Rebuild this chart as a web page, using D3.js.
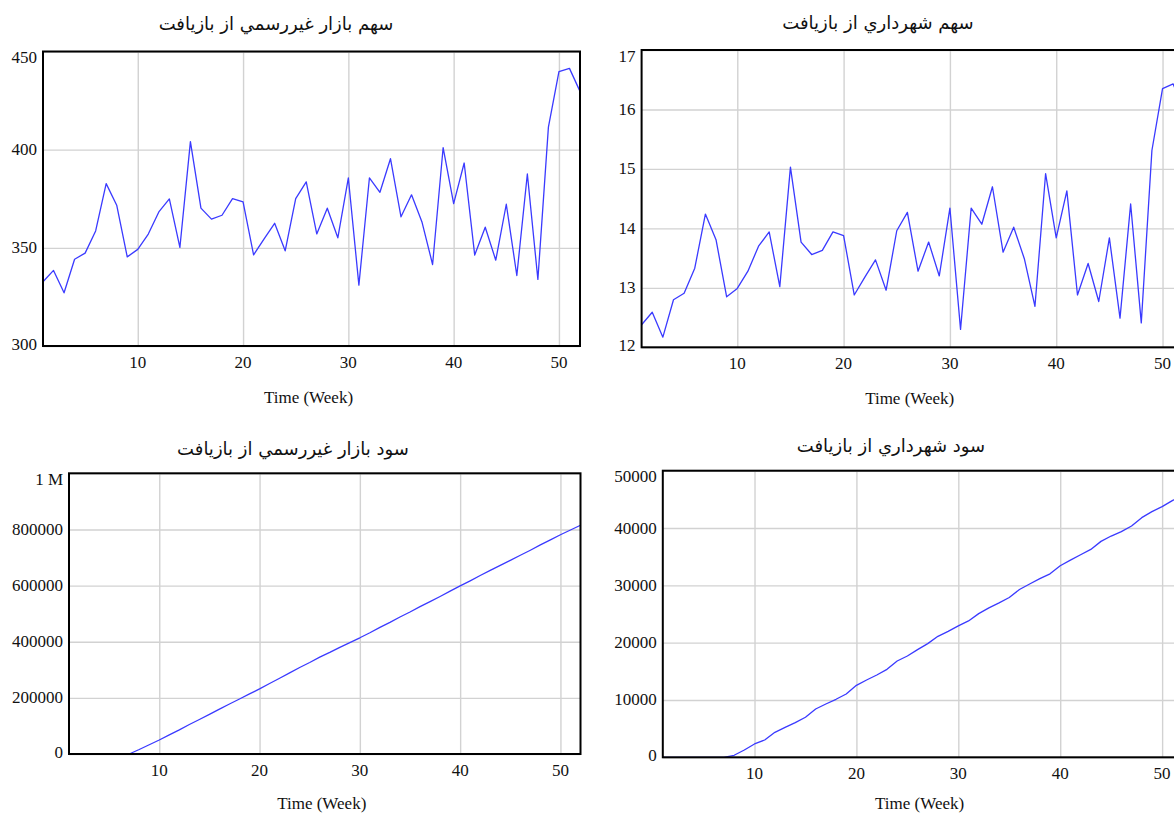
<!DOCTYPE html>
<html>
<head>
<meta charset="utf-8">
<script src="https://cdn.jsdelivr.net/npm/d3@7"></script>
<style>
  html, body { margin: 0; padding: 0; background: #fff; }
  svg { display: block; }
  .tick-label { font-family: "Liberation Serif", "Times New Roman", serif; font-size: 17px; fill: #111; }
  .axis-title { font-family: "Liberation Serif", "Times New Roman", serif; font-size: 17px; fill: #111; }
  .panel-title { font-family: "DejaVu Sans", sans-serif; font-size: 18px; fill: #111; }
</style>
</head>
<body>
<svg id="chart" width="1174" height="813"></svg>
<script>
// Simulation time axis (weeks)
const weeks = d3.range(1, 53);
const xTicks = [10, 20, 30, 40, 50];

// Share of the informal market from recycling
const informalShare = [
  332.7, 338.5, 327.1, 344.2, 347.3, 358.6, 382.7, 371.7, 345.4, 349.2,
  357.0, 368.3, 374.9, 350.2, 404.1, 370.2, 364.6, 366.6, 375.1, 373.4,
  346.4, 354.6, 362.5, 348.5, 375.1, 383.6, 357.1, 370.2, 355.1, 385.6,
  331.0, 385.6, 378.3, 395.4, 365.8, 377.0, 363.0, 341.5, 401.0, 372.5,
  393.2, 346.3, 360.5, 343.7, 372.2, 335.9, 387.6, 333.9, 411.5, 439.7,
  441.4, 429.7
];
const informalShareTicks = [300, 350, 400, 450];

// Share of the municipality from recycling
const municipalShare = [
  12.38, 12.59, 12.17, 12.80, 12.91, 13.33, 14.24, 13.81, 12.85, 12.99,
  13.28, 13.70, 13.94, 13.02, 15.03, 13.77, 13.56, 13.63, 13.94, 13.88,
  12.88, 13.18, 13.47, 12.96, 13.96, 14.27, 13.28, 13.77, 13.20, 14.34,
  12.30, 14.34, 14.07, 14.70, 13.60, 14.02, 13.49, 12.69, 14.92, 13.84,
  14.63, 12.88, 13.41, 12.77, 13.84, 12.49, 14.41, 12.41, 15.31, 16.35,
  16.43, 15.97
];
const municipalShareTicks = [12, 13, 14, 15, 16, 17];

// Accumulated profit of the informal market
const informalProfit = [
  0, 0, 0, 0, 0, 0, 0, 16000, 33000, 50000,
  68000, 86000, 105000, 123000, 141000, 160000, 178000, 196000, 214000, 232000,
  251000, 270000, 289000, 308000, 326000, 345000, 362000, 380000, 397000, 414000,
  432000, 451000, 469000, 488000, 506000, 525000, 543000, 561000, 580000, 599000,
  617000, 636000, 654000, 672000, 690000, 708000, 726000, 745000, 763000, 781000,
  798000, 815000
];
const informalProfitTicks = [0, 200000, 400000, 600000, 800000, 1000000];
const informalProfitTickLabels = ["0", "200000", "400000", "600000", "800000", "1 M"];

// Accumulated profit of the municipality
const municipalProfit = [
  0, 0, 0, 0, 0, 0, 0, 350, 1280, 2330,
  3020, 4360, 5230, 6050, 6980, 8430, 9300, 10120, 11050, 12560,
  13490, 14360, 15350, 16800, 17670, 18780, 19830, 21110, 21980, 22920,
  23790, 25070, 26060, 26940, 27870, 29270, 30230, 31160, 32010, 33410,
  34400, 35340, 36270, 37670, 38600, 39360, 40350, 41810, 42860, 43730,
  44780, 45700
];
const municipalProfitTicks = [0, 10000, 20000, 30000, 40000, 50000];

const titles = [
  "سهم بازار غيررسمي از بازيافت",
  "سهم شهرداري از بازيافت",
  "سود بازار غيررسمي از بازيافت",
  "سود شهرداري از بازيافت"
];
const xLabel = "Time (Week)";

// Panel geometry on the page
const panels = [
  { values: informalShare, ticks: informalShareTicks, labels: null,
    left: 43, right: 580, top: 51.5, bottom: 346, titleX: 276, titleY: 23, labelDy: 51, title: titles[0] },
  { values: municipalShare, ticks: municipalShareTicks, labels: null,
    left: 641.6, right: 1183.8, top: 50, bottom: 347.3, titleX: 878, titleY: 22, labelDy: 51, title: titles[1] },
  { values: informalProfit, ticks: informalProfitTicks, labels: informalProfitTickLabels,
    left: 69, right: 580.5, top: 473.3, bottom: 754, titleX: 293, titleY: 448, labelDy: 49, title: titles[2] },
  { values: municipalProfit, ticks: municipalProfitTicks, labels: null,
    left: 662.8, right: 1182.5, top: 470.7, bottom: 757.3, titleX: 891, titleY: 445, labelDy: 46, title: titles[3] }
];

const svg = d3.select("#chart");
svg.append("rect").attr("width", 1174).attr("height", 813).attr("fill", "#fff");

panels.forEach(p => {
  const yMin = p.ticks[0], yMax = p.ticks[p.ticks.length - 1];
  const x = d3.scaleLinear().domain([1, 52]).range([p.left, p.right]);
  const y = d3.scaleLinear().domain([yMin, yMax]).range([p.bottom, p.top]);
  const g = svg.append("g");

  // grid
  g.append("g")
    .attr("transform", `translate(0,${p.bottom})`)
    .call(d3.axisBottom(x).tickValues(xTicks).tickSize(-(p.bottom - p.top)).tickFormat(""))
    .call(s => s.select(".domain").remove())
    .call(s => s.selectAll("line").attr("stroke", "#d2d2d2").attr("stroke-width", 1.4));
  g.append("g")
    .attr("transform", `translate(${p.left},0)`)
    .call(d3.axisLeft(y).tickValues(p.ticks).tickSize(-(p.right - p.left)).tickFormat(""))
    .call(s => s.select(".domain").remove())
    .call(s => s.selectAll("line").attr("stroke", "#d2d2d2").attr("stroke-width", 1.4));

  // series
  const line = d3.line().x((d, i) => x(weeks[i])).y(d => y(d));
  g.append("path")
    .datum(p.values)
    .attr("fill", "none")
    .attr("stroke", "#3a3aff")
    .attr("stroke-width", 1.3)
    .attr("stroke-linejoin", "round")
    .attr("d", line);

  // frame
  g.append("rect")
    .attr("x", p.left).attr("y", p.top)
    .attr("width", p.right - p.left).attr("height", p.bottom - p.top)
    .attr("fill", "none").attr("stroke", "#000").attr("stroke-width", 2);

  // y tick labels
  const fmt = p.labels ? (d, i) => p.labels[i] : d3.format("d");
  g.selectAll(".ylab").data(p.ticks).join("text")
    .attr("class", "tick-label")
    .attr("x", p.left - 6)
    .attr("y", (d, i) => y(d) + (i === p.ticks.length - 1 ? 6 : (i === 0 ? -2 : 0)))
    .attr("text-anchor", "end")
    .attr("dominant-baseline", "central")
    .text((d, i) => fmt(d, i));

  // x tick labels
  g.selectAll(".xlab").data(xTicks).join("text")
    .attr("class", "tick-label")
    .attr("x", d => x(d))
    .attr("y", p.bottom + 16)
    .attr("text-anchor", "middle")
    .attr("dominant-baseline", "central")
    .text(d => d);

  // axis title
  g.append("text")
    .attr("class", "axis-title")
    .attr("x", (p.left + p.right) / 2 - 3)
    .attr("y", p.bottom + p.labelDy)
    .attr("text-anchor", "middle")
    .attr("dominant-baseline", "central")
    .text(xLabel);

  // panel title
  g.append("text")
    .attr("class", "panel-title")
    .attr("x", p.titleX)
    .attr("y", p.titleY)
    .attr("text-anchor", "middle")
    .attr("dominant-baseline", "central")
    .attr("direction", "rtl")
    .text(p.title);
});
</script>
</body>
</html>
